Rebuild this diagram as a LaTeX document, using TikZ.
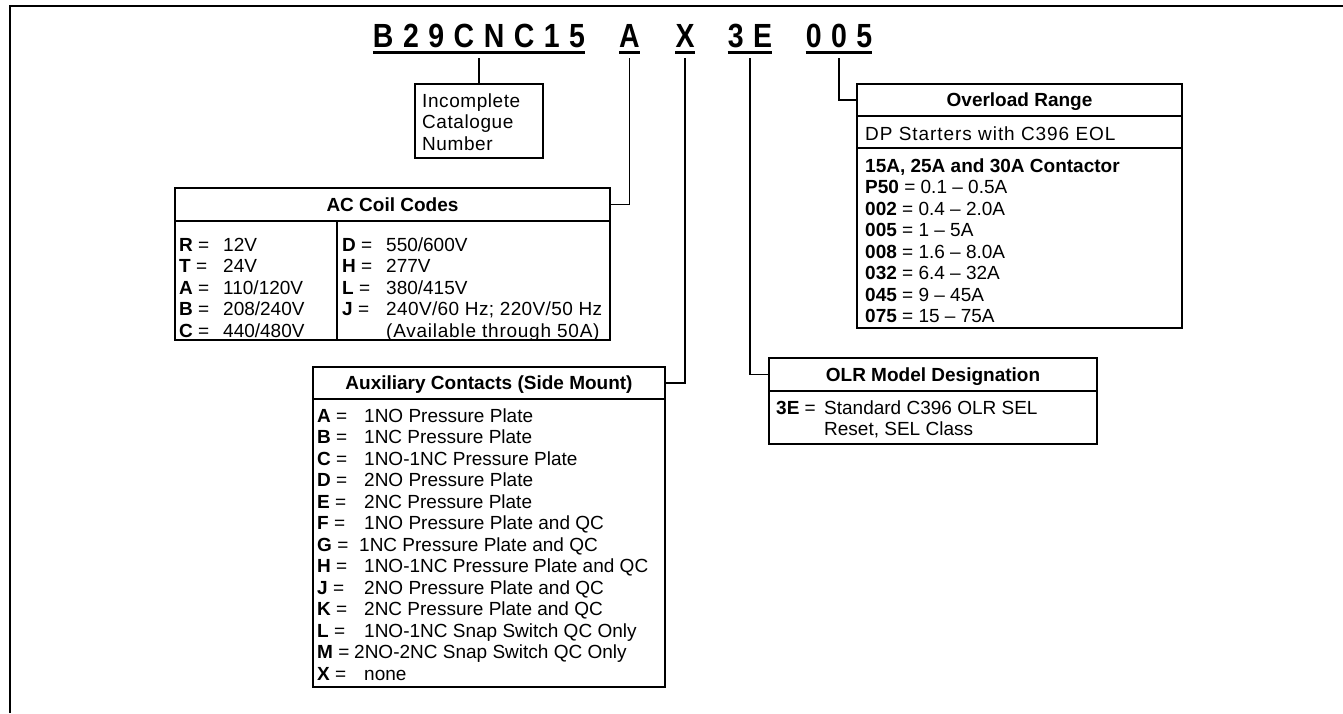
\documentclass[tikz,border=0pt]{standalone}
\usepackage{fontspec}
\setmainfont{Liberation Sans}
\usetikzlibrary{positioning, calc}

\makeatletter
% spaced, condensed characters of the catalogue number
\newcommand{\codetext}[1]{%
  \def\code@sep{}%
  \@tfor\code@c:=#1\do{\code@sep\scalebox{0.85}[1]{\code@c}\def\code@sep{\hspace{9.5pt}}}}
\makeatother
% one code line: bold letter, equals sign, value at a fixed tab
\newcommand{\codeentry}[3][45pt]{\makebox[#1][l]{\textbf{#2} =}#3}
% slightly tracked text
\newcommand{\tracked}[2][5]{{\addfontfeatures{LetterSpace=#1}#2}}

\tikzset{
  codeword/.style={inner sep=0pt, anchor=base, font=\fontsize{33.5}{36}\selectfont\bfseries},
  underline/.style={line width=2.6pt},
  link/.style={line width=1.3pt},
  headbox/.style={draw, line width=1.3pt, inner sep=0pt, outer sep=0pt, text height=13.6pt, text depth=0pt, font=\fontsize{19}{21.5}\selectfont\bfseries},
  bodybox/.style={draw, line width=1.3pt, inner sep=0pt, outer sep=0pt},
  codelist/.style={inner sep=0pt, anchor=base west, font=\fontsize{19}{21.5}\selectfont},
}

\begin{document}
\begin{tikzpicture}[x=1pt, y=-1pt]
  \useasboundingbox (0,0) rectangle (1343,713);
  % frame
  \draw[line width=2pt] (9.5,713) -- (9.5,6) -- (1343,6);

  % catalogue number
  \node[codeword] (cat) at (479,47) {\codetext{B29CNC15}};
  \node[codeword] (codeA) at (629.5,47) {\codetext{A}};
  \node[codeword] (codeX) at (685,47) {\codetext{X}};
  \node[codeword] (code3E) at (750,47) {\codetext{3E}};
  \node[codeword] (code005) at (839,47) {\codetext{005}};
  \foreach \n in {cat, codeA, codeX, code3E, code005}
    \draw[underline] ($(\n.base west)+(0,5.5)$) -- ($(\n.base east)+(0,5.5)$);

  % incomplete number
  \node[bodybox, minimum width=128, minimum height=74, anchor=north] (catbox) at (479,84) {};
  \node[codelist] (catnote) at (422,107) {\begin{tabular}[t]{@{}l@{}}\tracked[3]{Incomplete}\\\tracked[3]{Catalogue}\\\tracked[3]{Number}\end{tabular}};

  % AC coil codes
  \node[headbox, minimum width=435, minimum height=33, anchor=north west] (achead) at (175,188) {AC Coil Codes};
  \node[bodybox, minimum width=435, minimum height=119, below=0pt of achead] (acbody) {};
  \coordinate (acsplit) at (337,0);
  \draw[link] (acbody.north -| acsplit) -- (acbody.south -| acsplit);
  \node[codelist] (acleft) at (179,251) {\begin{tabular}[t]{@{}l@{}}
      \codeentry[44pt]{R}{12V}\\
      \codeentry[44pt]{T}{24V}\\
      \codeentry[44pt]{A}{110/120V}\\
      \codeentry[44pt]{B}{208/240V}\\
      \codeentry[44pt]{C}{440/480V}
    \end{tabular}};
  \node[codelist] (acright) at (342,251) {\begin{tabular}[t]{@{}l@{}}
      \codeentry[44pt]{D}{550/600V}\\
      \codeentry[44pt]{H}{277V}\\
      \codeentry[44pt]{L}{380/415V}\\
      \codeentry[44pt]{J}{\tracked[2]{240V/60 Hz; 220V/50 Hz}}\\
      \hspace{44pt}\tracked[4]{(Available through 50A)}
    \end{tabular}};

  % overload range
  \node[headbox, minimum width=325, minimum height=32, anchor=north west] (olhead) at (857,84) {Overload Range};
  \node[bodybox, minimum width=325, minimum height=32, below=0pt of olhead] (olsub) {};
  \node[bodybox, minimum width=325, minimum height=180, below=0pt of olsub] (olbody) {};
  \node[codelist] (olnote) at (865,140) {\tracked{DP Starters with C396 EOL}};
  \node[codelist] (ollist) at (865,172) {\begin{tabular}[t]{@{}l@{}}
      \textbf{15A, 25A and 30A Contactor}\\
      \textbf{P50} = 0.1 -- 0.5A\\
      \textbf{002} = 0.4 -- 2.0A\\
      \textbf{005} = 1 -- 5A\\
      \textbf{008} = 1.6 -- 8.0A\\
      \textbf{032} = 6.4 -- 32A\\
      \textbf{045} = 9 -- 45A\\
      \textbf{075} = 15 -- 75A
    \end{tabular}};

  % OLR model designation
  \node[headbox, minimum width=328, minimum height=33, anchor=north west] (olrhead) at (769,358) {OLR Model Designation};
  \node[bodybox, minimum width=328, minimum height=53, below=0pt of olrhead] (olrbody) {};
  \node[codelist] (olrlist) at (776,414) {\begin{tabular}[t]{@{}l@{}}
      \codeentry[48pt]{3E}{Standard C396 OLR SEL}\\
      \hspace{48pt}Reset, SEL Class
    \end{tabular}};

  % auxiliary contacts
  \node[headbox, minimum width=352, minimum height=32, anchor=north west] (auxhead) at (313,367) {Auxiliary Contacts (Side Mount)};
  \node[bodybox, minimum width=352, minimum height=288, below=0pt of auxhead] (auxbody) {};
  \node[codelist] (auxlist) at (317,422) {\begin{tabular}[t]{@{}l@{}}
      \codeentry[47pt]{A}{1NO Pressure Plate}\\
      \codeentry[47pt]{B}{1NC Pressure Plate}\\
      \codeentry[47pt]{C}{1NO-1NC Pressure Plate}\\
      \codeentry[47pt]{D}{2NO Pressure Plate}\\
      \codeentry[47pt]{E}{2NC Pressure Plate}\\
      \codeentry[47pt]{F}{1NO Pressure Plate and QC}\\
      \codeentry[42pt]{G}{1NC Pressure Plate and QC}\\
      \codeentry[47pt]{H}{1NO-1NC Pressure Plate and QC}\\
      \codeentry[47pt]{J}{2NO Pressure Plate and QC}\\
      \codeentry[47pt]{K}{2NC Pressure Plate and QC}\\
      \codeentry[47pt]{L}{1NO-1NC Snap Switch QC Only}\\
      \codeentry[37pt]{M}{2NO-2NC Snap Switch QC Only}\\
      \codeentry[47pt]{X}{none}
    \end{tabular}};

  % connectors
  \draw[link] ($(cat.base)+(0,11)$) -- (catbox.north);
  \draw[link] ($(codeA.base)+(0,11)$) |- (achead.east);
  \draw[link] ($(codeX.base)+(0,11)$) |- (auxhead.east);
  \draw[link] ($(code3E.base)+(0,11)$) |- (olrhead.west);
  \draw[link] ($(code005.base)+(0,11)$) |- (olhead.west);
\end{tikzpicture}
\end{document}
